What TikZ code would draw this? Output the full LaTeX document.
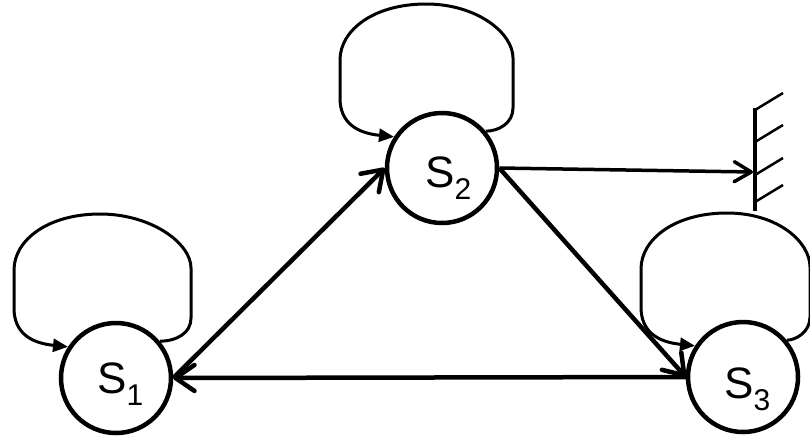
\documentclass[tikz,border=0pt]{standalone}
\usepackage{fontspec}
\setmainfont{Liberation Sans}
\usetikzlibrary{arrows.meta}
\tikzset{
  state/.style={circle,draw,line width=4.5pt,minimum size=110pt,inner sep=0pt},
  statelabel/.style={anchor=base west,inner sep=0pt,font=\fontsize{44}{44}\selectfont},
  edge/.style={line width=4.5pt,-{Straight Barb[length=19pt,width=26pt,round]}},
  walledge/.style={line width=3.5pt,-{Straight Barb[length=17pt,width=20pt,round]}},
  loopline/.style={line width=3pt,-{Triangle[length=15pt,width=13pt]}},
  wallline/.style={line width=4pt},
  hatch/.style={line width=2.5pt}
}
\newcommand{\sub}[1]{\raisebox{-12pt}{\fontsize{30}{30}\selectfont #1}}
\newcommand{\selfloop}[2]{%
  \begin{scope}[shift={(#1.center)}]
    \draw[loopline] (#1.40) .. controls (#2-14,-37) and (#2,-45) .. (#2,-60)
      -- (#2,-110) .. controls (#2,-135) and (35,-164) .. (-16,-164)
      .. controls (-68,-164) and (-102,-138) .. (-102,-108)
      -- (-102,-70) .. controls (-102,-45) and (-85,-35) .. (#1.147);
  \end{scope}}
\begin{document}
\begin{tikzpicture}[x=1pt,y=-1pt]
\useasboundingbox (0,0) rectangle (810,437);
\node[state] (S1) at (116,378) {};
\node[state] (S2) at (442,168) {};
\node[state] (S3) at (743,377) {};
\node[statelabel] (t1) at (97,393) {S\sub{1}};
\node[statelabel] (t2) at (425,187) {S\sub{2}};
\node[statelabel] (t3) at (724,398) {S\sub{3}};
\selfloop{S1}{75}
\selfloop{S2}{71}
\selfloop{S3}{67}
\draw[edge] (S1.east) -- (S2.west);
\draw[edge] (S2.east) -- (S3.west);
\draw[edge] (S3.west) -- (S1.east);
\coordinate (Wt) at (755,108);
\coordinate (Wb) at (755,211);
\coordinate (Wa) at (753,172);
\draw[walledge] (S2.east) -- (Wa);
\draw[wallline] (Wt) -- (Wb);
\foreach \y in {110,142,175,202}
  \draw[hatch] (755,\y) -- ++(28,-17);
\end{tikzpicture}
\end{document}
